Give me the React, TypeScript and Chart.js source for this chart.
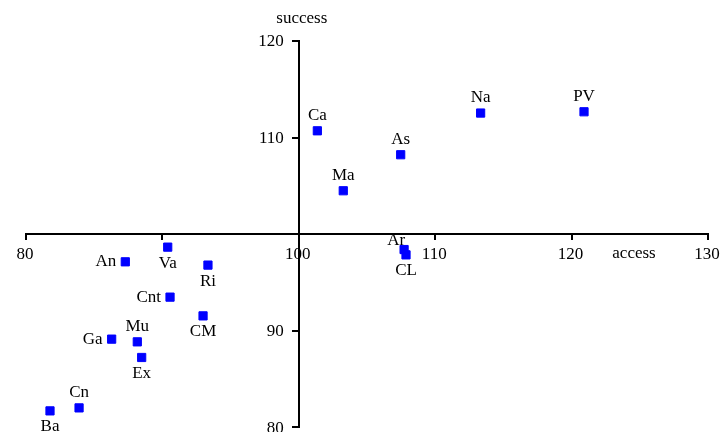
import React, { useEffect, useRef } from 'react';
import { Chart, registerables } from 'chart.js';

Chart.register(...registerables);

const names = ['Ca', 'Ma', 'As', 'Na', 'PV', 'Ar', 'CL', 'Va', 'An', 'Ri', 'Cnt', 'CM', 'Ga', 'Mu', 'Ex', 'Cn', 'Ba'];
const accessValues = [101.36, 103.26, 107.47, 113.33, 120.91, 107.72, 107.86, 90.39, 87.28, 93.34, 90.56, 92.98, 86.28, 88.16, 88.48, 83.89, 81.76];
const successValues = [110.7, 104.49, 108.22, 112.54, 112.67, 98.4, 97.85, 98.65, 97.13, 96.79, 93.47, 91.53, 89.12, 88.84, 87.22, 82.0, 81.69];
const labelSides = ['above', 'above', 'above', 'above', 'above', 'above-left', 'below', 'below', 'left', 'below', 'left', 'below', 'left', 'above', 'below', 'above', 'below'];

const xMin = 80;
const xMax = 130;
const yMin = 80;
const yMax = 120;
const xTickValues = [80, 100, 110, 120, 130];
const xTickLabels = ['80', '100', '110', '120', '130'];
const yTickValues = [80, 90, 110, 120];
const yTickLabels = ['80', '90', '110', '120'];
const xTitle = 'access';
const yTitle = 'success';

const FONT = '"Liberation Serif", "Times New Roman", serif';

const labelPlugin = {
  id: 'pointLabels',
  afterDatasetsDraw(chart: any) {
    const ctx = chart.ctx;
    const meta = chart.getDatasetMeta(0);
    ctx.save();
    ctx.font = `17px ${FONT}`;
    ctx.fillStyle = '#000';
    meta.data.forEach((el: any, i: number) => {
      const side = labelSides[i];
      let x = el.x;
      let y = el.y;
      ctx.textBaseline = 'middle';
      ctx.textAlign = 'center';
      if (side === 'above') {
        y -= 15;
      } else if (side === 'below') {
        y += 16;
      } else if (side === 'left') {
        x -= 9;
        ctx.textAlign = 'right';
      } else if (side === 'above-left') {
        x -= 8;
        y -= 9;
      }
      ctx.fillText(names[i], x, y);
    });
    const xs = chart.scales.x;
    const ys = chart.scales.y;
    const ca = chart.chartArea;
    const axisY = ys.getPixelForValue(100);
    const axisX = xs.getPixelForValue(100);
    // y tick labels
    ctx.textAlign = 'right';
    ctx.textBaseline = 'middle';
    yTickValues.forEach((v, i) => {
      ctx.fillText(yTickLabels[i], axisX - 15, ys.getPixelForValue(v) + 1);
    });
    // x tick labels
    ctx.textAlign = 'center';
    xTickValues.forEach((v, i) => {
      ctx.fillText(xTickLabels[i], xs.getPixelForValue(v) - 1, axisY + 20.5);
    });
    // axis titles
    ctx.textBaseline = 'alphabetic';
    ctx.fillText(yTitle, axisX + 3, ca.top - 18);
    ctx.fillText(xTitle, ca.right - 74, axisY + 23.5);
    ctx.restore();
  },
};

export default function App() {
  const ref = useRef<HTMLCanvasElement | null>(null);
  useEffect(() => {
    if (!ref.current) return;
    const chart = new Chart(ref.current, {
      type: 'scatter',
      data: {
        datasets: [
          {
            label: 'points',
            data: accessValues.map((a, i) => ({ x: a, y: successValues[i] })),
            backgroundColor: '#0000ff',
            borderColor: '#0000ff',
            borderWidth: 1,
            pointStyle: 'rect',
            pointRadius: 5.8,
            pointHoverRadius: 5.8,
          },
        ],
      },
      options: {
        animation: false,
        responsive: true,
        maintainAspectRatio: false,
        events: [],
        layout: { padding: { left: 26, right: 14, top: 41, bottom: 3 } },
        plugins: {
          legend: { display: false },
          tooltip: { enabled: false },
          title: { display: false },
        },
        scales: {
          x: {
            type: 'linear',
            min: xMin,
            max: xMax,
            position: { y: 100 } as any,
            border: { display: true, color: '#000', width: 2 },
            grid: { drawOnChartArea: false, drawTicks: true, tickLength: 5, color: '#000', lineWidth: 2 },
            ticks: { stepSize: 10, autoSkip: false, display: false },
          },
          y: {
            type: 'linear',
            min: yMin,
            max: yMax,
            position: { x: 100 } as any,
            border: { display: true, color: '#000', width: 2 },
            grid: { drawOnChartArea: false, drawTicks: true, tickLength: 6, color: '#000', lineWidth: 2 },
            ticks: { stepSize: 10, autoSkip: false, display: false },
          },
        },
      },
      plugins: [labelPlugin],
    });
    return () => chart.destroy();
  }, []);
  return (
    <div style={{ position: 'fixed', left: 0, top: 0, width: 722, height: 434, background: '#fff' }}>
      <canvas ref={ref} />
    </div>
  );
}
